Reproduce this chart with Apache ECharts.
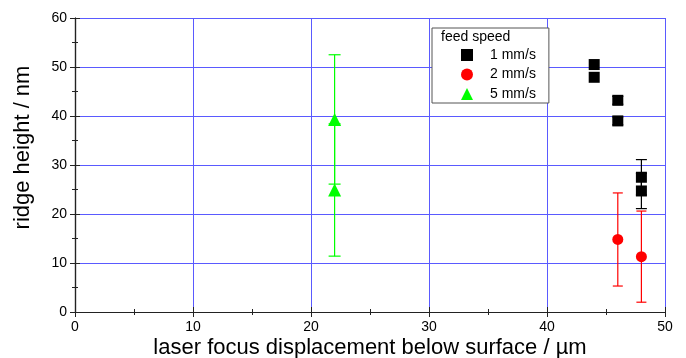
<!DOCTYPE html>
<html><head><meta charset="utf-8">
<script src="https://cdn.jsdelivr.net/npm/echarts@6/dist/echarts.min.js"></script>
<style>html,body{margin:0;padding:0;background:#fff}#c{width:686px;height:358px}</style>
</head><body><div id="c"></div>
<script>
// displacement (µm), ridge height (nm), error (± nm)
const s1x = [44, 44, 46, 46, 48, 48];
const s1y = [50.5, 47.9, 43.2, 39.0, 27.5, 24.7];
const s1e = [0, 0, 0.8, 0.8, 3.6, 3.6];
const s2x = [46, 48];
const s2y = [14.8, 11.3];
const s2e = [9.5, 9.3];
const s5x = [22, 22];
const s5y = [39.3, 24.9];
const s5e = [13.2, 13.5];
const names = ['1 mm/s', '2 mm/s', '5 mm/s'];
const colors = ['#000000', '#ff0000', '#00ff00'];
const xTicks = [0, 10, 20, 30, 40, 50];
const yTicks = [0, 10, 20, 30, 40, 50, 60];

const font = 'Liberation Sans, Arial, sans-serif';
function pts(xs, ys) { return xs.map((x, i) => [x, ys[i]]); }
function errs(xs, ys, es) { return xs.map((x, i) => [x, ys[i] - es[i], ys[i] + es[i]]); }
function errSeries(data, color, capW) {
  return {
    type: 'custom', data: data, z: 2, silent: true,
    renderItem: function (params, api) {
      const x = api.value(0);
      const lo = api.coord([x, api.value(1)]);
      const hi = api.coord([x, api.value(2)]);
      const h = capW / 2;
      const st = { stroke: color, lineWidth: 1.2 };
      if (api.value(2) - api.value(1) <= 0) return { type: 'group', children: [] };
      return { type: 'group', children: [
        { type: 'line', shape: { x1: lo[0], y1: lo[1], x2: hi[0], y2: hi[1] }, style: st },
        { type: 'line', shape: { x1: lo[0] - h, y1: lo[1], x2: lo[0] + h, y2: lo[1] }, style: st },
        { type: 'line', shape: { x1: hi[0] - h, y1: hi[1], x2: hi[0] + h, y2: hi[1] }, style: st }
      ]};
    }
  };
}
const axisLine = { show: true, lineStyle: { color: '#222', width: 1.2 } };
const gridColor = '#5a5aff';
const tickStyle = { inside: true, length: 5, lineStyle: { color: '#222' } };
const minorStyle = { show: true, splitNumber: 2, length: 3, lineStyle: { color: '#222' } };
const chart = echarts.init(document.getElementById('c'));
chart.setOption({
  animation: false,
  grid: { left: 75, right: 21, top: 18, bottom: 46, outerBoundsMode: 'none', containLabel: false },
  xAxis: [{
    type: 'value', min: xTicks[0], max: xTicks[xTicks.length - 1], interval: 10,
    name: 'laser focus displacement below surface / µm', nameLocation: 'middle', nameGap: 25,
    nameMoveOverlap: false,
    nameTextStyle: { fontFamily: font, fontSize: 22, color: '#000' },
    axisLine: axisLine, axisTick: tickStyle, minorTick: minorStyle,
    axisLabel: { fontFamily: font, fontSize: 14, color: '#000', margin: 8 },
    splitLine: { show: true, lineStyle: { color: gridColor, width: 1 } }
  }, {
    type: 'value', position: 'top', min: 0, max: 50, interval: 10,
    axisLine: axisLine, axisLabel: { show: false },
    axisTick: tickStyle, minorTick: minorStyle, splitLine: { show: false }
  }],
  yAxis: [{
    type: 'value', min: yTicks[0], max: yTicks[yTicks.length - 1], interval: 10,
    name: 'ridge height / nm', nameLocation: 'middle', nameGap: 41,
    nameMoveOverlap: false,
    nameTextStyle: { fontFamily: font, fontSize: 22, color: '#000', padding: [0, 0, 0, 35] },
    axisLine: axisLine, axisTick: tickStyle, minorTick: minorStyle,
    axisLabel: { fontFamily: font, fontSize: 14, color: '#000', margin: 8 },
    splitLine: { show: true, lineStyle: { color: gridColor, width: 1 } }
  }, {
    type: 'value', position: 'right', min: 0, max: 60, interval: 10,
    axisLine: axisLine, axisLabel: { show: false },
    axisTick: tickStyle, minorTick: minorStyle, splitLine: { show: false }
  }],
  legend: {
    data: names, orient: 'vertical', left: 432, top: 28,
    padding: [20, 13, 2, 29], itemGap: 5.5,
    borderColor: '#555', borderWidth: 1, backgroundColor: '#fff',
    itemWidth: 12, itemHeight: 12,
    textStyle: { fontFamily: font, fontSize: 14, color: '#000', padding: [0, 0, 0, 12] }
  },
  graphic: [{
    type: 'text', left: 441, top: 30, z: 100,
    style: { text: 'feed speed', fontFamily: font, fontSize: 14, fill: '#000' }
  }],
  series: [
    errSeries(errs(s1x, s1y, s1e), colors[0], 11),
    errSeries(errs(s2x, s2y, s2e), colors[1], 10),
    errSeries(errs(s5x, s5y, s5e), colors[2], 12),
    { name: names[0], type: 'scatter', symbol: 'rect', symbolSize: 11, z: 3,
      itemStyle: { color: colors[0], opacity: 1 }, data: pts(s1x, s1y) },
    { name: names[1], type: 'scatter', symbol: 'circle', symbolSize: 11, z: 3,
      itemStyle: { color: colors[1], opacity: 1 }, data: pts(s2x, s2y) },
    { name: names[2], type: 'scatter', symbol: 'triangle', symbolSize: 13, z: 3,
      itemStyle: { color: colors[2], opacity: 1 }, data: pts(s5x, s5y) }
  ]
});
</script></body></html>
